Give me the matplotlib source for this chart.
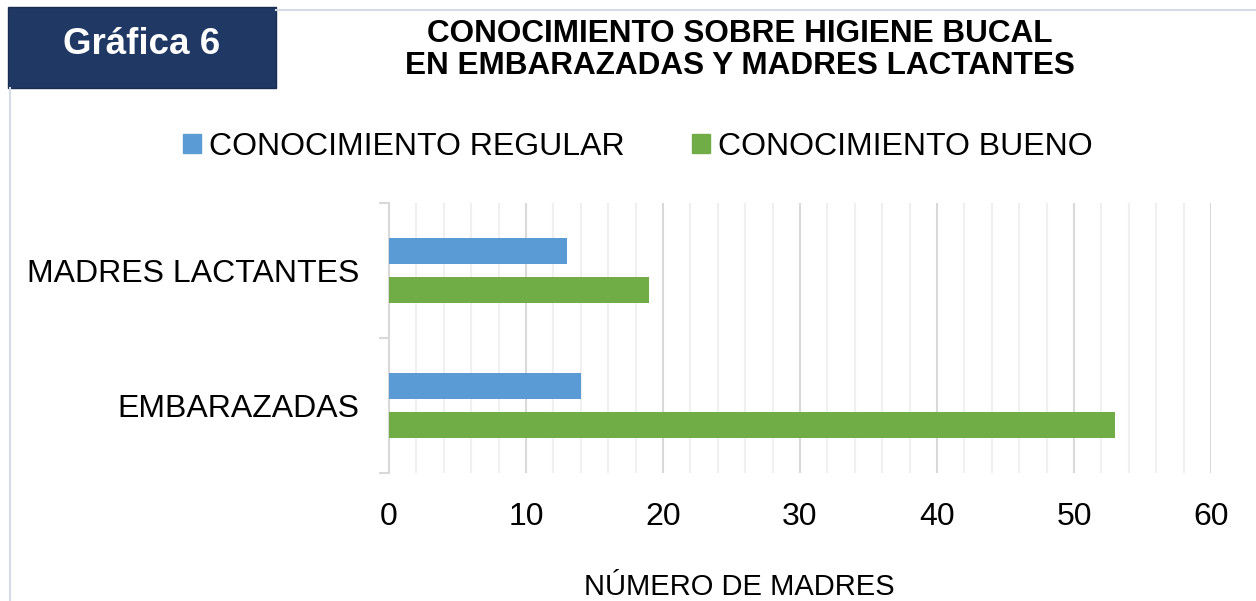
import matplotlib
matplotlib.use("Agg")
import matplotlib.pyplot as plt
from matplotlib.patches import Rectangle
from matplotlib.lines import Line2D
import numpy as np

plt.rcParams['font.family'] = ['Liberation Sans', 'DejaVu Sans']

categories = ["EMBARAZADAS", "MADRES LACTANTES"]
series_names = ["CONOCIMIENTO REGULAR", "CONOCIMIENTO BUENO"]
regular = [14, 13]
bueno = [53, 19]
colors = ["#5b9bd5", "#70ad47"]
xticks = [0, 10, 20, 30, 40, 50, 60]

fig = plt.figure(figsize=(12.56, 6.01), dpi=100)
W, H = 1256, 601

def fx(x): return x / W
def fy(y): return 1 - y / H

FS = 23

# outer chart border
fig.add_artist(Line2D([fx(276), fx(1256)], [fy(9.5), fy(9.5)], color="#d6dce5", lw=1.5))
fig.add_artist(Line2D([fx(9.5), fx(9.5)], [fy(88), fy(601)], color="#d6dce5", lw=1.5))

# header box
fig.add_artist(Rectangle((fx(8), fy(88)), fx(268), 81 / H, facecolor="#203864",
                         edgecolor="#1a2d50", lw=1))
fig.text(fx(142), fy(45), "Gráfica 6", color="white", fontsize=26.5, fontweight="bold",
         ha="center", va="center")
fig.text(fx(740), fy(50), "CONOCIMIENTO SOBRE HIGIENE BUCAL\nEN EMBARAZADAS Y MADRES LACTANTES",
         fontsize=22.7, fontweight="bold", ha="center", va="center", linespacing=1.05)

ax = fig.add_axes([fx(389), fy(473), fx(1211 - 389), (473 - 203) / H])
y = np.arange(len(categories))
h = 0.19
off = 0.145
ax.barh(y - off, bueno, height=h, color=colors[1], label=series_names[1], zorder=3)
ax.barh(y + off, regular, height=h, color=colors[0], label=series_names[0], zorder=3)
ax.set_ylim(-0.5, 1.5)
ax.set_xlim(0, 60)

ax.set_xticks(xticks)
ax.set_xticks(np.arange(0, 61, 2), minor=True)
ax.grid(axis="x", which="major", color="#d9d9d9", lw=1.5, zorder=0)
ax.grid(axis="x", which="minor", color="#f0f0f0", lw=1.5, zorder=0)
ax.tick_params(axis="x", which="both", length=0, labelsize=FS, pad=21)

ax.set_yticks(y)
ax.set_yticklabels(categories, fontsize=FS)
ax.tick_params(axis="y", which="major", length=0, pad=21)
ax.set_yticks([-0.5, 0.5, 1.5], minor=True)
ax.tick_params(axis="y", which="minor", length=7, color="#d9d9d9", width=1.5)

for s in ["top", "right", "bottom"]:
    ax.spines[s].set_visible(False)
ax.spines["left"].set_color("#d9d9d9")
ax.spines["left"].set_linewidth(1.5)

fig.text(fx(739), fy(595), "NÚMERO DE MADRES", fontsize=21, ha="center", va="baseline")

handles = [Rectangle((0, 0), 1, 1, color=colors[0]), Rectangle((0, 0), 1, 1, color=colors[1])]
fig.legend(handles, series_names, loc="center", bbox_to_anchor=(fx(638), fy(147)), ncol=2,
           frameon=False, fontsize=FS, handlelength=0.55, handleheight=0.55,
           handletextpad=0.25, columnspacing=2.12, borderpad=0)

fig.savefig("out.png", dpi=100)
